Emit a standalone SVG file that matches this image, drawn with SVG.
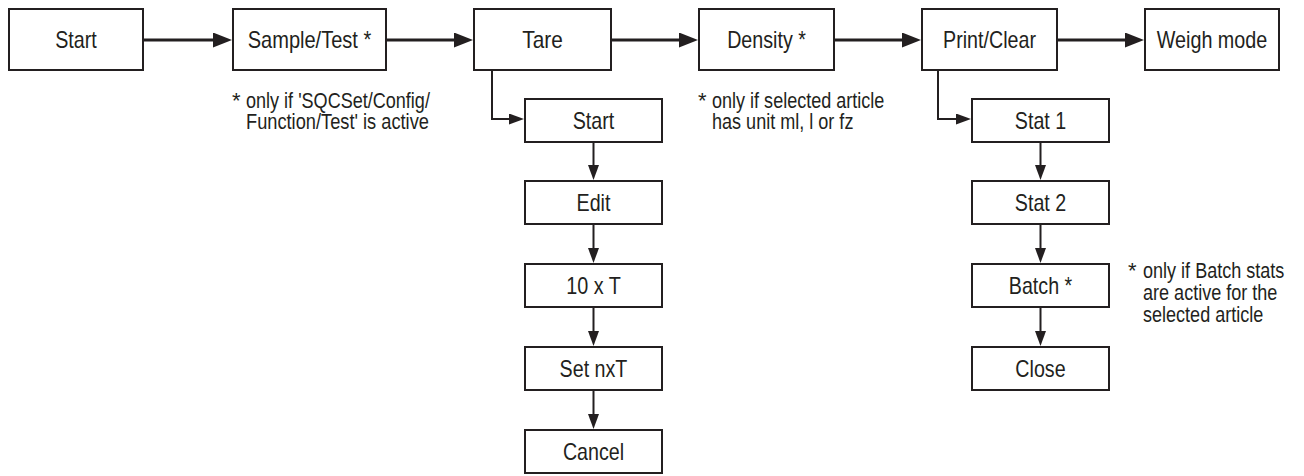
<svg xmlns="http://www.w3.org/2000/svg" width="1304" height="476" viewBox="0 0 1304 476">
<style>
.box{fill:#fff;stroke:#231f20;stroke-width:2}
.lbl{font-family:'Liberation Sans',Arial,sans-serif;font-size:24px;fill:#231f20;text-anchor:middle}
.note{font-family:'Liberation Sans',Arial,sans-serif;font-size:22px;fill:#231f20}
.main{fill:none;stroke:#231f20;stroke-width:3}
.thin{fill:none;stroke:#231f20;stroke-width:2}
</style>
<defs>
<marker id="big" markerUnits="userSpaceOnUse" markerWidth="19" markerHeight="15" refX="9" refY="7.5" orient="auto">
<path d="M0,0 L19,7.5 L0,15 z" fill="#231f20"/>
</marker>
<marker id="small" markerUnits="userSpaceOnUse" markerWidth="15" markerHeight="11" refX="7" refY="5.5" orient="auto">
<path d="M0,0 L15,5.5 L0,11 z" fill="#231f20"/>
</marker>
</defs>
<rect width="1304" height="476" fill="#fff"/>
<g id="connectors">
<path class="main" d="M144,40 H222" marker-end="url(#big)"/>
<path class="main" d="M387,40 H463" marker-end="url(#big)"/>
<path class="main" d="M612,40 H688" marker-end="url(#big)"/>
<path class="main" d="M835,40 H911" marker-end="url(#big)"/>
<path class="main" d="M1058,40 H1134" marker-end="url(#big)"/>
<path class="thin" d="M492,71 V119 H516" marker-end="url(#small)"/>
<path class="thin" d="M938,71 V119 H963" marker-end="url(#small)"/>
<path class="thin" d="M593.5,143 V172" marker-end="url(#small)"/>
<path class="thin" d="M593.5,224 V255" marker-end="url(#small)"/>
<path class="thin" d="M593.5,308 V338" marker-end="url(#small)"/>
<path class="thin" d="M593.5,390 V421" marker-end="url(#small)"/>
<path class="thin" d="M1040.5,143 V172" marker-end="url(#small)"/>
<path class="thin" d="M1040.5,225 V255" marker-end="url(#small)"/>
<path class="thin" d="M1040.5,308 V338" marker-end="url(#small)"/>
</g>
<g id="n-start"><rect class="box" x="9" y="9" width="134" height="61"/><text class="lbl" x="76" y="48" textLength="41.6" lengthAdjust="spacingAndGlyphs">Start</text></g>
<g id="n-sample"><rect class="box" x="233" y="9" width="153" height="61"/><text class="lbl" x="309.5" y="48" textLength="123.6" lengthAdjust="spacingAndGlyphs">Sample/Test *</text></g>
<g id="n-tare"><rect class="box" x="474" y="9" width="137" height="61"/><text class="lbl" x="542.5" y="48" textLength="40.5" lengthAdjust="spacingAndGlyphs">Tare</text></g>
<g id="n-density"><rect class="box" x="699" y="9" width="135" height="61"/><text class="lbl" x="766.5" y="48" textLength="78.7" lengthAdjust="spacingAndGlyphs">Density *</text></g>
<g id="n-print"><rect class="box" x="922" y="9" width="135" height="61"/><text class="lbl" x="989.5" y="48" textLength="92.9" lengthAdjust="spacingAndGlyphs">Print/Clear</text></g>
<g id="n-weigh"><rect class="box" x="1145" y="9" width="134" height="61"/><text class="lbl" x="1212" y="48" textLength="110.5" lengthAdjust="spacingAndGlyphs">Weigh mode</text></g>
<g id="n-tstart"><rect class="box" x="525" y="99" width="137" height="43"/><text class="lbl" x="593.5" y="129" textLength="41.6" lengthAdjust="spacingAndGlyphs">Start</text></g>
<g id="n-edit"><rect class="box" x="525" y="181" width="137" height="43"/><text class="lbl" x="593.5" y="211" textLength="33.9" lengthAdjust="spacingAndGlyphs">Edit</text></g>
<g id="n-10t"><rect class="box" x="525" y="264" width="137" height="43"/><text class="lbl" x="593.5" y="294" textLength="54.7" lengthAdjust="spacingAndGlyphs">10 x T</text></g>
<g id="n-setn"><rect class="box" x="525" y="347" width="137" height="43"/><text class="lbl" x="593.5" y="377" textLength="67.8" lengthAdjust="spacingAndGlyphs">Set nxT</text></g>
<g id="n-cancel"><rect class="box" x="525" y="430" width="137" height="43"/><text class="lbl" x="593.5" y="460" textLength="61.2" lengthAdjust="spacingAndGlyphs">Cancel</text></g>
<g id="n-stat1"><rect class="box" x="972" y="99" width="137" height="43"/><text class="lbl" x="1040.5" y="129" textLength="51.4" lengthAdjust="spacingAndGlyphs">Stat 1</text></g>
<g id="n-stat2"><rect class="box" x="972" y="181" width="137" height="43"/><text class="lbl" x="1040.5" y="211" textLength="51.4" lengthAdjust="spacingAndGlyphs">Stat 2</text></g>
<g id="n-batch"><rect class="box" x="972" y="264" width="137" height="43"/><text class="lbl" x="1040.5" y="294" textLength="63.4" lengthAdjust="spacingAndGlyphs">Batch *</text></g>
<g id="n-close"><rect class="box" x="972" y="347" width="137" height="43"/><text class="lbl" x="1040.5" y="377" textLength="50.3" lengthAdjust="spacingAndGlyphs">Close</text></g>
<g id="notes">
<text class="note" x="232" y="108">*</text>
<text class="note" x="246" y="108" textLength="183.9" lengthAdjust="spacingAndGlyphs">only if 'SQCSet/Config/</text>
<text class="note" x="246" y="129" textLength="182.9" lengthAdjust="spacingAndGlyphs">Function/Test' is active</text>
<text class="note" x="698" y="108">*</text>
<text class="note" x="712" y="108" textLength="172.4" lengthAdjust="spacingAndGlyphs">only if selected article</text>
<text class="note" x="712" y="129" textLength="141.4" lengthAdjust="spacingAndGlyphs">has unit ml, l or fz</text>
<text class="note" x="1128" y="278">*</text>
<text class="note" x="1143" y="278" textLength="141.4" lengthAdjust="spacingAndGlyphs">only if Batch stats</text>
<text class="note" x="1143" y="300" textLength="134.4" lengthAdjust="spacingAndGlyphs">are active for the</text>
<text class="note" x="1143" y="322" textLength="120.3" lengthAdjust="spacingAndGlyphs">selected article</text>
</g>
</svg>
